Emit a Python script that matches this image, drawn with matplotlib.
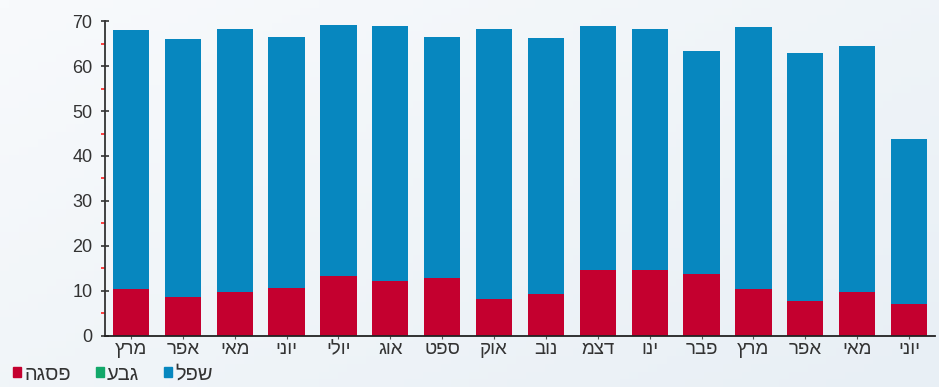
import matplotlib
matplotlib.use("Agg")
from matplotlib import pyplot as plt
from matplotlib.patches import Patch
from matplotlib.ticker import MultipleLocator
import numpy as np

# data
chodashim = ["מרץ", "אפר", "מאי", "יוני", "יולי", "אוג", "ספט", "אוק",
             "נוב", "דצמ", "ינו", "פבר", "מרץ", "אפר", "מאי", "יוני"]
pisga = [10.3, 8.6, 9.7, 10.6, 13.2, 12.1, 12.9, 8.2,
         9.2, 14.7, 14.6, 13.8, 10.4, 7.7, 9.7, 7.0]
givaa = [0, 0, 0, 0, 0, 0, 0, 0, 0, 0, 0, 0, 0, 0, 0, 0]
sachak = [68.0, 66.0, 68.2, 66.4, 69.1, 69.0, 66.4, 68.2,
          66.2, 69.0, 68.2, 63.4, 68.8, 63.0, 64.6, 43.7]
shefel = [s - p - g for s, p, g in zip(sachak, pisga, givaa)]
sidrot = ["פסגה", "גבע", "שפל"]

adom = "#c4002f"
yarok = "#12a86a"
kachol = "#0787bf"


def hafoch(t):
    # the reference shows the Hebrew letters left to right (no bidi),
    # matplotlib here reorders them, so hand it the letters reversed
    return t[::-1]


plt.rcParams['font.family'] = ['Liberation Sans', 'DejaVu Sans']

fig = plt.figure(figsize=(9.39, 3.87), dpi=100, facecolor="#eef3f7")

# light gradient background
bg = fig.add_axes([0, 0, 1, 1], zorder=-10)
gy, gx = np.mgrid[0:1:50j, 0:1:100j]
grad = 0.55 * gx + 0.45 * gy
bg.imshow(grad, cmap=matplotlib.colors.LinearSegmentedColormap.from_list(
    "bg", ["#f8fafc", "#e8eff5"]), aspect='auto', extent=[0, 1, 0, 1])
bg.axis('off')

ax = fig.add_axes([105 / 939, 51.5 / 387, 830 / 939, 314.2 / 387])
ax.patch.set_alpha(0)

x = range(len(chodashim))
ax.bar(x, pisga, width=0.7, color=adom, zorder=2)
ax.bar(x, givaa, width=0.7, bottom=pisga, color=yarok, zorder=2)
bottom2 = [p + g for p, g in zip(pisga, givaa)]
ax.bar(x, shefel, width=0.7, bottom=bottom2, color=kachol, zorder=2)

ax.set_xlim(-0.5, 15.5)
ax.set_ylim(0, 70)
ax.set_xticks(list(x))
ax.set_xticklabels([hafoch(m) for m in chodashim], fontsize=13.5, color="#333333")
ax.yaxis.set_major_locator(MultipleLocator(10))
ax.yaxis.set_minor_locator(MultipleLocator(5))
ax.tick_params(axis='y', which='major', direction='inout', length=6,
               width=1.2, color="#333333", labelsize=13, labelcolor="#333333", pad=6)
ax.tick_params(axis='y', which='minor', direction='out', length=3,
               width=1.2, color="#ff2020")
ax.tick_params(axis='x', direction='out', length=2, width=0.8,
               color="#555555", pad=2)

for s in ['top', 'right']:
    ax.spines[s].set_visible(False)
ax.spines['left'].set_color("#333333")
ax.spines['left'].set_linewidth(1.3)
ax.spines['bottom'].set_color("#222222")
ax.spines['bottom'].set_linewidth(1.3)

handles = [Patch(color=c, label=hafoch(t)) for c, t in zip([adom, yarok, kachol], sidrot)]
fig.legend(handles=handles, loc='lower left', bbox_to_anchor=(5 / 939, -0.012),
           borderaxespad=0, ncol=3, frameon=False, fontsize=14.5, handlelength=0.4,
           handleheight=0.4, handletextpad=0.15, columnspacing=1.25,
           labelcolor="#333333")

fig.savefig("out.png", dpi=100, facecolor=fig.get_facecolor())
